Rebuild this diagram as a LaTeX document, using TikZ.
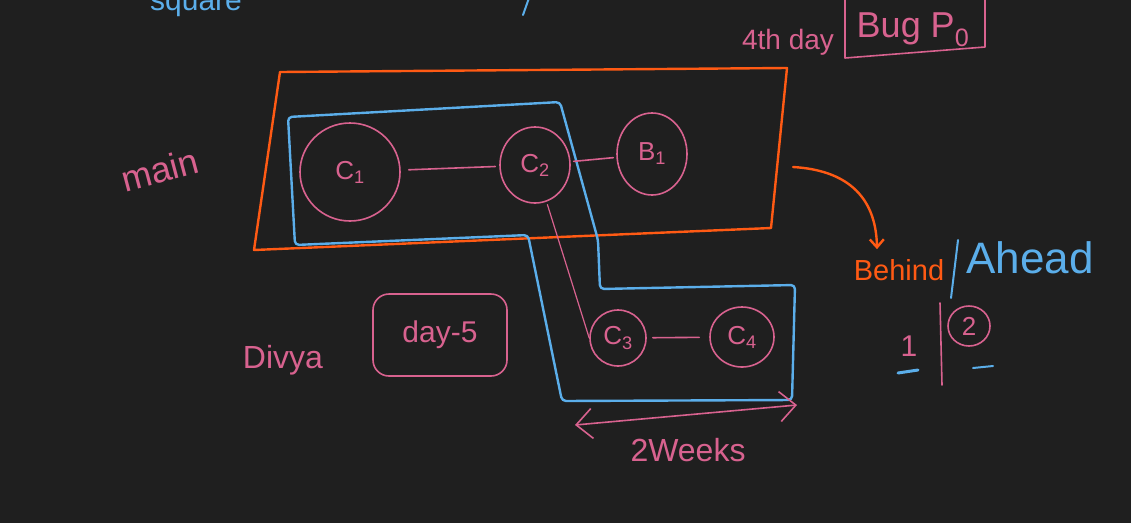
\documentclass[tikz,border=0pt]{standalone}
\usepackage{fontspec}
\setmainfont{Liberation Sans}
\usetikzlibrary{shapes.geometric,arrows.meta}
\definecolor{bg}{HTML}{1F1F1F}
\definecolor{pk}{HTML}{D8628F}
\definecolor{bl}{HTML}{5BAEEA}
\definecolor{og}{HTML}{FF5A14}
\tikzset{
  pinkline/.style={draw=pk,line width=1.6pt,line cap=round,line join=round},
  blueline/.style={draw=bl,line width=2.4pt,line cap=round,line join=round},
  orangeline/.style={draw=og,line width=2.4pt,line cap=round,line join=round},
  cnode/.style={ellipse,draw=pk,line width=1.6pt,text=pk,inner sep=0pt,font=\fontsize{26}{28}\selectfont},
  pinktext/.style={text=pk,inner sep=0pt},
}
\begin{document}
\begin{tikzpicture}[x=1pt,y=-1pt]
\fill[bg] (0,0) rectangle (1131,523);
\useasboundingbox (0,0) rectangle (1131,523);

% top cut-off fragments
\node[text=bl,anchor=base west,inner sep=0pt,font=\fontsize{30}{32}\selectfont] (sq) at (150,10) {square};
\coordinate (t1) at (529,-2);
\coordinate (t2) at (523,15);
\draw[blueline,line width=2pt] (t1) -- (t2);

% orange box
\draw[orangeline] (280,72) -- (787,68) -- (771,228) -- (254,250) -- cycle;

% blue L-shaped region
\draw[blueline,rounded corners=4pt] (288,117) -- (560,102) -- (598,240) -- (600,289) -- (795,285) -- (792,400) -- (562,401) -- (528,235) -- (295,245) -- cycle;

% nodes
\node[cnode,minimum width=100pt,minimum height=98pt] (c1) at (350,172) {C\textsubscript{1}};
\node[cnode,minimum width=70pt,minimum height=76pt] (c2) at (535,165) {C\textsubscript{2}};
\node[cnode,minimum width=70pt,minimum height=82pt] (b1) at (652,154) {B\textsubscript{1}};
\node[cnode,minimum width=56pt,minimum height=56pt] (c3) at (618,338) {C\textsubscript{3}};
\node[cnode,minimum width=64pt,minimum height=60pt] (c4) at (742,337) {C\textsubscript{4}};

\draw[pinkline,shorten <=8pt,shorten >=4pt] (c1) -- (c2);
\draw[pinkline,shorten <=3pt,shorten >=3pt] (c2) -- (b1);
\draw[pinkline,shorten <=6pt,shorten >=10pt] (c3) -- (c4);
\draw[pinkline,line width=1.2pt,shorten <=3pt] (c2) -- (c3.west);

% labels
\node[pinktext,rotate=15,font=\fontsize{36}{38}\selectfont] (main) at (160,170) {main};
\node[pinktext,font=\fontsize{28}{30}\selectfont] (day4) at (788,42) {4th day};
\node[pinktext,font=\fontsize{36}{38}\selectfont] (bug) at (913,30) {Bug P\textsubscript{0}};
\draw[pinkline] (845,0) -- (845,58) -- (985,47) -- (985,0);

\node[pinktext,font=\fontsize{32}{34}\selectfont] (divya) at (283,360) {Divya};
\node[draw=pk,line width=1.6pt,rounded corners=16pt,text=pk,minimum width=134pt,minimum height=82pt,font=\fontsize{30}{32}\selectfont] (day5) at (440,335) {day-5};

\coordinate (wl) at (575,425);
\coordinate (wr) at (797,405);
\draw[pinkline,{Straight Barb[length=16pt,width=30pt]}-{Straight Barb[length=16pt,width=30pt]}] (wl) -- (wr);
\node[pinktext,font=\fontsize{32}{34}\selectfont] (weeks) at (688,450) {2Weeks};

% behind / ahead
\node[text=og,inner sep=0pt,font=\fontsize{29}{31}\selectfont] (behind) at (899,270) {Behind};
\node[text=bl,inner sep=0pt,font=\fontsize{44}{46}\selectfont] (ahead) at (1030,258) {Ahead};
\coordinate (sl1) at (958,240);
\coordinate (sl2) at (951,298);
\draw[blueline,line width=2pt] (sl1) -- (sl2);

\coordinate (boxr) at (793,167);
\draw[orangeline,-{Straight Barb[length=8pt,width=14pt]}] (boxr) .. controls (845,170) and (876,195) .. ([xshift=-22pt,yshift=10pt]behind.north);

\node[pinktext,font=\fontsize{30}{32}\selectfont] (one) at (909,346) {1};
\coordinate (u1a) at (898,373);
\coordinate (u1b) at (918,370);
\draw[blueline,line width=3pt] (u1a) -- (u1b);
\coordinate (v1) at (940,303);
\coordinate (v2) at (942,385);
\draw[pinkline] (v1) -- (v2);
\node[ellipse,draw=pk,line width=1.6pt,text=pk,inner sep=0pt,minimum width=42pt,minimum height=40pt,font=\fontsize{26}{28}\selectfont] (two) at (969,326) {2};
\coordinate (u2a) at (973,368);
\coordinate (u2b) at (993,366);
\draw[blueline,line width=2pt] (u2a) -- (u2b);
\end{tikzpicture}
\end{document}
